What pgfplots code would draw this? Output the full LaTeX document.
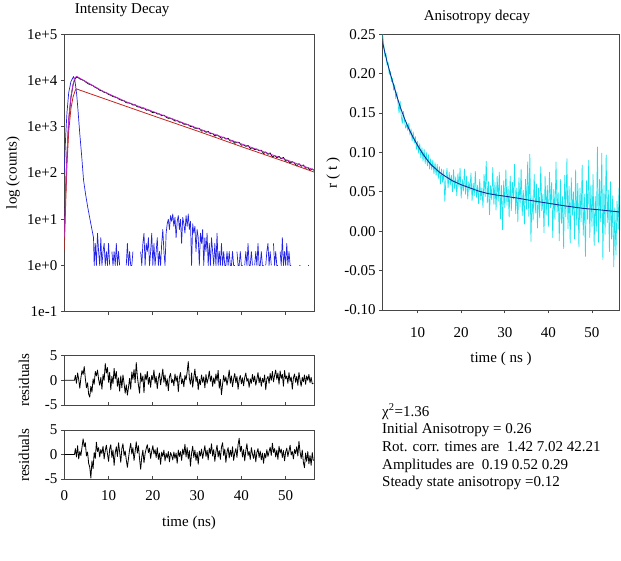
\documentclass[border=0pt]{standalone}
\usepackage{fontspec}
\setmainfont{Liberation Serif}
\usepackage{pgfplots}
\pgfplotsset{compat=1.18}

\definecolor{irfblue}{RGB}{35,35,230}
\definecolor{fitred}{RGB}{195,35,30}
\definecolor{fitmag}{RGB}{195,45,210}
\definecolor{anicyan}{RGB}{25,228,238}
\definecolor{aninavy}{RGB}{15,45,150}
\definecolor{framegray}{RGB}{70,70,70}

\newcommand{\lbl}{\fontsize{15}{18}\selectfont}

\pgfplotsset{
  panel/.style={
    scale only axis,
    anchor=south west,
    axis line style={framegray, line width=0.7pt},
    every tick/.style={framegray, line width=0.7pt},
    major tick length=3.5pt,
    tick label style={font=\lbl, text=black},
    xtick pos=bottom, ytick pos=left,
    unbounded coords=jump,
    every axis plot/.append style={line join=round},
  }
}

\begin{document}
\begin{tikzpicture}
\path[use as bounding box] (0pt,0pt) rectangle (621pt,560pt);

% ---------------- intensity decay (log counts) ----------------
\begin{axis}[panel,
  at={(64.3pt,248.3pt)}, width=249.7pt, height=277.4pt,
  xmin=0, xmax=56.4,
  ymode=log, ymin=1e-1, ymax=1e5,
  ytick={1e-1,1,10,100,1000,10000,100000},
  yticklabels={1e-1,1e+0,1e+1,1e+2,1e+3,1e+4,1e+5},
  yminorticks=false,
  xtick={10,20,30,40,50}, xticklabels={},
  tick align=outside,
]
% instrument response
\addplot[irfblue, line width=0.7pt] coordinates {
(0,100)(0.3,600)(0.6,2000)(1.0,5500)(1.5,9500)(2.08,12200)(2.4,10000)(2.8,5000)
(3.1,2240)(3.5,700)(3.9,250)(4.35,70)(4.8,35)(5.3,18)(5.8,10)(6.3,5.6)(6.6,4)
(6.75,1)(7.0,3)(7.25,1)(7.5,5)(7.75,2)(8.0,1)(8.25,4)(8.5,1)(8.75,2)(9.0,3)(9.25,1)
(9.5,2)(9.75,1)(10.0,3)(10.25,1)(10.5,0)(10.75,2)(11.0,1)(11.25,2)(11.5,1)(11.75,3)
(12.0,1)(12.25,2)(12.5,1)(12.75,0)(13.0,0)(13.25,2)(13.5,0)(13.75,0)(14.0,1)(14.25,3)
(14.5,1)(14.75,2)(15.0,1)(15.25,1)(15.5,2)(15.75,0)(16.0,0)(16.25,4)(16.5,0)(16.75,1)
(17.0,0)(17.25,2)(17.5,1)(17.75,3)(18.0,5)(18.25,1)(18.5,3)(18.75,2)(19.0,4)(19.25,1)
(19.5,2)(19.75,5)(20.0,1)(20.25,3)(20.5,1)(20.75,2)(21.0,4)(21.25,1)(21.5,2)(21.75,1)
(22.0,3)(22.25,6)(22.5,2)(22.75,1)(23.0,5)(23.25,8)(23.5,10)(23.75,6)(24.0,12)(24.25,9)
(24.5,13)(24.75,7)(25.0,11)(25.25,4)(25.5,9)(25.75,12)(26.0,6)(26.25,10)(26.5,3)(26.75,11)
(27.0,8)(27.25,5)(27.5,12)(27.75,7)(28.0,13)(28.25,6)(28.5,9)(28.75,1)(29.0,8)(29.25,5)
(29.5,7)(29.75,2)(30.0,6)(30.25,4)(30.5,1)(30.75,5)(31.0,3)(31.25,6)(31.5,1)(31.75,4)
(32.0,2)(32.25,5)(32.5,1)(32.75,3)(33.0,1)(33.25,4)(33.5,2)(33.75,1)(34.0,3)(34.25,1)
(34.5,5)(34.75,1)(35.0,2)(35.25,1)(35.5,3)(35.75,1)(36.0,2)(36.25,1)(36.5,1)(36.75,2)
(37.0,1)(37.25,2)(37.5,1)(37.75,1)(38.0,2)(38.25,1)(38.5,1)(38.75,0)(39.0,2)(39.25,1)
(39.5,1)(39.75,2)(40.0,1)(40.25,1)(40.5,0)(40.75,1)(41.0,2)(41.25,1)(41.5,3)(41.75,1)
(42.0,1)(42.25,2)(42.5,1)(42.75,0)(43.0,1)(43.25,2)(43.5,1)(43.75,3)(44.0,1)(44.25,1)
(44.5,2)(44.75,1)(45.0,1)(45.25,0)(45.5,1)(45.75,2)(46.0,3)(46.25,1)(46.5,2)(46.75,1)
(47.0,0)(47.25,3)(47.5,1)(47.75,2)(48.0,1)(48.25,1)(48.5,0)(48.75,2)(49.0,1)(49.25,4)
(49.5,1)(49.75,2)(50.0,1)(50.25,3)(50.5,1)(50.75,2)(51.0,1)(51.25,1)(51.5,0)
(53.0,0)(53.1,1)(53.3,1)(53.4,0)(55.0,0)(55.05,1)(55.25,1)(55.3,0)
};
% measured decay
\addplot[black, line width=0.8pt] coordinates {
(0,5)(0.5,150)(1.0,1400)(1.5,4300)(2.0,8300)(2.5,11300)
(3.0,11860)(3.5,10860)(4.0,10400)(4.5,9890)(5.0,9040)(5.5,8400)(6.0,8090)(6.5,7690)
(7.0,7080)(7.5,6750)(8.0,6170)(8.5,5980)(9.0,5560)(9.5,5430)(10,4990)(10.5,4820)
(11,4500)(11.5,4380)(12,4200)(12.5,3890)(13,3730)(13.5,3640)(14,3310)(14.5,3270)
(15,3190)(15.5,2960)(16,2980)(16.5,2700)(17,2680)(17.5,2510)(18,2540)(18.5,2290)
(19,2300)(19.5,2180)(20,2010)(20.5,2050)(21,1900)(21.5,1897)(22,1730)(22.5,1780)
(23,1620)(23.5,1520)(24,1530)(24.5,1450)(25,1330)(25.5,1370)(26,1250)(26.5,1245)
(27,1140)(27.5,1135)(28,1107)(28.5,1012)(29,1026)(29.5,928)(30,923)(30.5,924)
(31,805)(31.5,830)(32,758)(32.5,799)(33,709)(33.5,718)(34,630)(34.5,668)(35,620)
(35.5,563)(36,597)(36.5,542)(37,565)(37.5,490)(38,499)(38.5,440)(39,464)(39.5,457)
(40,400)(40.5,406)(41,377)(41.5,393)(42,340)(42.5,349)(43,320)(43.5,330)(44,303)
(44.5,312)(45,264)(45.5,284)(46,254)(46.5,272)(47,222)(47.5,239)(48,214)(48.5,229)
(49,203)(49.5,217)(50,180)(50.5,188)(51,164)(51.5,176)(52,164)(52.5,142)(53,159)
(53.5,140)(54,149)(54.5,127)(55,132)(55.5,114)(56,123)(56.4,114)
};
% fitted curves
\addplot[fitred, line width=0.8pt] coordinates {
(0,2.1)(0.3,20)(0.6,150)(1.0,800)(1.5,2500)(2.0,4500)(2.5,6200)(2.7,6600)
(20,1738)(30,813)(40,372)(50,174)(56.4,105)
};
\addplot[fitmag, line width=0.8pt] coordinates {
(0,4)(0.3,40)(0.6,250)(1.0,1500)(1.5,4500)(2.0,8500)(2.4,11500)(2.8,12300)
(5,9330)(8.7,5890)(14,3470)(20,2140)(25,1413)(30,933)(40,427)(50,195)(56.4,117)
};
\end{axis}

% ---------------- residuals, first fit ----------------
\begin{axis}[panel,
  at={(64.3pt,155pt)}, width=249.7pt, height=49.3pt,
  xmin=0, xmax=56.4, ymin=-5, ymax=5,
  ytick={-5,0,5}, yticklabels={-5,0,5},
  xtick={10,20,30,40,50}, xticklabels={},
  xtick align=inside, ytick align=outside,
]
\addplot[black, line width=0.8pt] coordinates {
(0,0)(2.3,0)(2.5,1.0)(2.75,-0.6)(3,1.5)(3.25,0.2)(3.5,-1.6)(3.75,0.5)(4,2.0)(4.25,1.2)
(4.5,2.8)(4.75,0.4)(5,-1.5)(5.25,-0.5)(5.5,-2.8)(5.75,-3.4)(6,-1.2)(6.25,-2.4)(6.5,0.3)
(6.75,-0.8)(7,1.8)(7.25,0.9)(7.5,2.1)(7.75,0.2)(8,-1.0)(8.25,0.6)(8.5,-1.8)(8.75,1.2)
(9,0.0)(9.25,3.4)(9.5,1.5)(9.75,2.6)(10,-0.4)(10.25,1.6)(10.5,-1.9)(10.75,0.8)(11,-0.7)
(11.25,2.4)(11.5,0.3)(11.75,1.8)(12,-1.2)(12.25,0.5)(12.5,-2.2)(12.75,0.9)(13,-1.5)
(13.25,1.1)(13.5,-0.6)(13.75,-2.6)(14,-0.9)(14.25,-3.0)(14.5,-1.4)(14.75,0.4)(15,-1.8)
(15.25,1.7)(15.5,0.2)(15.75,2.2)(16,-0.5)(16.25,3.6)(16.5,0.8)(16.75,-1.0)(17,-2.6)
(17.25,1.5)(17.5,-0.3)(17.75,0.9)(18,-2.5)(18.25,1.2)(18.5,0.1)(18.75,1.8)(19,-0.8)
(19.25,0.6)(19.5,-1.4)(19.75,1.0)(20,0.1)(20.25,2.1)(20.5,-0.6)(20.75,0.8)(21,-1.7)
(21.25,0.4)(21.5,1.5)(21.75,-0.9)(22,0.6)(22.25,2.3)(22.5,-0.4)(22.75,1.1)(23,-1.2)
(23.25,0.3)(23.5,-2.1)(23.75,0.7)(24,1.4)(24.25,-0.5)(24.5,0.2)(24.75,-1.1)(25,1.3)
(25.25,-0.2)(25.5,0.9)(25.75,-2.3)(26,0.5)(26.25,1.6)(26.5,-0.7)(26.75,0.3)(27,-1.3)
(27.25,1.0)(27.5,0.1)(27.75,1.7)(28,3.8)(28.25,0.4)(28.5,-0.8)(28.75,1.5)(29,-1.4)
(29.25,0.6)(29.5,2.3)(29.75,-0.3)(30,0.8)(30.25,-1.9)(30.5,0.2)(30.75,-0.9)(31,1.1)
(31.25,-0.4)(31.5,0.7)(31.75,-1.5)(32,1.2)(32.25,-0.6)(32.5,0.4)(32.75,1.9)(33,-0.2)
(33.25,0.9)(33.5,-1.2)(33.75,0.5)(34,-0.7)(34.25,1.3)(34.5,-0.1)(34.75,2.0)(35,-1.6)
(35.25,0.2)(35.5,-2.9)(35.75,-0.8)(36,1.0)(36.25,-0.3)(36.5,0.7)(36.75,-1.0)(37,0.4)
(37.25,2.1)(37.5,-0.6)(37.75,0.9)(38,-1.3)(38.25,0.3)(38.5,1.4)(38.75,-0.5)(39,0.8)
(39.25,-1.8)(39.5,0.1)(39.75,1.0)(40,-0.7)(40.25,0.5)(40.5,-1.1)(40.75,0.6)(41,1.5)
(41.25,-0.2)(41.5,0.4)(41.75,-1.4)(42,0.3)(42.25,-0.6)(42.5,1.2)(42.75,-0.3)(43,0.9)
(43.25,-1.0)(43.5,0.2)(43.75,1.6)(44,-0.5)(44.25,0.7)(44.5,-1.2)(44.75,0.4)(45,-0.4)
(45.25,1.1)(45.5,-1.9)(45.75,0.3)(46,0.8)(46.25,-0.6)(46.5,1.4)(46.75,0.0)(47,1.8)
(47.25,-0.3)(47.5,1.0)(47.75,2.1)(48,0.2)(48.25,1.5)(48.5,-0.8)(48.75,1.9)(49,0.4)
(49.25,1.2)(49.5,-1.2)(49.75,2.0)(50,0.3)(50.25,0.9)(50.5,-0.6)(50.75,1.6)(51,-0.2)
(51.25,0.7)(51.5,-1.8)(51.75,0.5)(52,1.3)(52.25,-0.4)(52.5,0.8)(52.75,-1.0)(53,1.6)
(53.25,0.1)(53.5,-1.2)(53.75,0.6)(54,-0.3)(54.25,1.1)(54.5,-0.8)(54.75,0.9)(55,0.0)
(55.25,1.2)(55.5,-0.5)(55.75,0.6)(56,-0.7)(56.25,-0.6)
};
\end{axis}

% ---------------- residuals, second fit ----------------
\begin{axis}[panel,
  at={(64.3pt,81pt)}, width=249.7pt, height=49pt,
  xmin=0, xmax=56.4, ymin=-5, ymax=5,
  ytick={-5,0,5}, yticklabels={-5,0,5},
  xtick={0,10,20,30,40,50}, xticklabels={0,10,20,30,40,50},
  xticklabel style={yshift=-7.5pt},
  xtick align=inside, ytick align=outside,
]
\addplot[black, line width=0.8pt] coordinates {
(0,0)(2.3,0)(2.5,1.2)(2.75,-0.5)(3,1.8)(3.25,-0.9)(3.5,0.6)(3.75,-0.2)(4,1.5)(4.25,3.2)
(4.5,1.6)(4.75,2.4)(5,-0.3)(5.25,0.5)(5.5,-1.8)(5.75,-2.6)(6,-4.8)(6.25,-1.3)(6.5,-2.9)
(6.75,0.4)(7,-0.8)(7.25,2.5)(7.5,0.6)(7.75,1.4)(8,-0.5)(8.25,1.0)(8.5,0.2)(8.75,1.7)
(9,-0.9)(9.25,0.8)(9.5,1.9)(9.75,0.1)(10,-1.4)(10.25,1.1)(10.5,2.0)(10.75,-0.6)(11,0.9)
(11.25,-2.2)(11.5,0.3)(11.75,1.6)(12,-0.4)(12.25,2.4)(12.5,0.5)(12.75,-1.6)(13,1.2)
(13.25,2.2)(13.5,-0.2)(13.75,0.7)(14,-1.1)(14.25,-2.6)(14.5,-0.8)(14.75,1.0)(15,2.3)
(15.25,0.1)(15.5,1.4)(15.75,-1.2)(16,0.6)(16.25,2.6)(16.5,0.3)(16.75,1.8)(17,-0.9)
(17.25,-3.0)(17.5,-0.5)(17.75,0.9)(18,-1.7)(18.25,0.2)(18.5,1.2)(18.75,2.0)(19,0.4)
(19.25,1.3)(19.5,-0.8)(19.75,0.7)(20,1.8)(20.25,0.1)(20.5,1.0)(20.75,-0.6)(21,1.4)
(21.25,-1.0)(21.5,0.3)(21.75,-2.0)(22,0.5)(22.25,-0.4)(22.5,0.9)(22.75,-1.3)(23,0.2)
(23.25,-0.7)(23.5,0.6)(23.75,-1.5)(24,0.4)(24.25,-0.2)(24.5,-1.1)(24.75,0.5)(25,-0.8)
(25.25,0.3)(25.5,-1.8)(25.75,0.9)(26,-0.4)(26.25,0.6)(26.5,-1.2)(26.75,1.1)(27,0.0)
(27.25,2.1)(27.5,-0.5)(27.75,1.4)(28,-0.9)(28.25,0.8)(28.5,-2.4)(28.75,0.3)(29,1.7)
(29.25,-0.6)(29.5,0.9)(29.75,-1.2)(30,0.4)(30.25,-2.0)(30.5,0.7)(30.75,-0.3)(31,1.1)
(31.25,-0.8)(31.5,0.5)(31.75,1.8)(32,-0.4)(32.25,0.9)(32.5,-1.1)(32.75,1.3)(33,0.2)
(33.25,2.2)(33.5,-0.3)(33.75,1.0)(34,-1.4)(34.25,0.6)(34.5,1.9)(34.75,-0.5)(35,0.8)
(35.25,-1.0)(35.5,1.5)(35.75,2.4)(36,-0.2)(36.25,1.1)(36.5,-1.6)(36.75,0.5)(37,1.4)
(37.25,-0.7)(37.5,0.9)(37.75,-0.4)(38,1.6)(38.25,-1.2)(38.5,0.3)(38.75,1.2)(39,-0.6)
(39.25,2.0)(39.5,3.3)(39.75,0.6)(40,1.7)(40.25,-0.5)(40.5,1.0)(40.75,-1.3)(41,0.8)
(41.25,2.2)(41.5,-0.2)(41.75,0.6)(42,-1.0)(42.25,1.4)(42.5,0.1)(42.75,-0.8)(43,0.9)
(43.25,-1.5)(43.5,0.4)(43.75,1.2)(44,-0.6)(44.25,0.7)(44.5,-1.1)(44.75,0.3)(45,-1.8)
(45.25,0.2)(45.5,-0.7)(45.75,1.0)(46,-0.4)(46.25,0.6)(46.5,1.5)(46.75,-0.2)(47,2.3)
(47.25,0.4)(47.5,1.2)(47.75,-0.5)(48,0.9)(48.25,-1.0)(48.5,1.7)(48.75,0.3)(49,1.1)
(49.25,-0.6)(49.5,0.8)(49.75,-1.3)(50,0.5)(50.25,1.3)(50.5,-0.4)(50.75,0.7)(51,1.9)
(51.25,-0.1)(51.5,0.6)(51.75,-0.9)(52,1.0)(52.25,0.2)(52.5,1.6)(52.75,-0.3)(53,2.7)
(53.25,0.5)(53.5,-0.8)(53.75,0.9)(54,-1.6)(54.25,-2.7)(54.5,0.3)(54.75,-1.4)(55,0.6)
(55.25,-1.9)(55.5,-0.2)(55.75,-2.2)(56,0.4)(56.25,-1.3)
};
\end{axis}

% ---------------- anisotropy decay ----------------
\begin{axis}[panel,
  at={(382.7pt,250pt)}, width=236.3pt, height=275.7pt,
  xmin=2, xmax=56.2, ymin=-0.1, ymax=0.25,
  ytick={-0.1,-0.05,0,0.05,0.1,0.15,0.2,0.25},
  yticklabels={-0.10,-0.05,0.00,0.05,0.10,0.15,0.20,0.25},
  xtick={10,20,30,40,50}, xticklabels={10,20,30,40,50},
  xticklabel style={yshift=-10pt},
  tick align=outside,
]
\addplot[anicyan, line width=0.7pt] coordinates {
(2.00,.250)(2.25,.236)(2.50,.222)(2.75,.226)(3.00,.211)(3.25,.214)(3.50,.199)(3.75,.203)
(4.00,.190)(4.25,.194)(4.50,.179)(4.75,.186)(5.00,.168)(5.25,.177)(5.50,.163)(5.75,.150)
(6.00,.165)(6.25,.146)(6.50,.137)(6.75,.152)(7.00,.140)(7.25,.131)(7.50,.136)(7.75,.128)
(8.00,.137)(8.25,.122)(8.50,.130)(8.75,.115)(9.00,.126)(9.25,.112)(9.50,.120)(9.75,.104)
(10.00,.114)(10.25,.099)(10.50,.111)(10.75,.093)(11.00,.106)(11.25,.089)(11.50,.104)
(11.75,.086)(12.00,.100)(12.25,.083)(12.50,.097)(12.75,.079)(13.00,.092)(13.25,.078)
(13.50,.090)(13.75,.073)(14.00,.087)(14.25,.071)(14.50,.085)(14.75,.067)(15.00,.082)
(15.25,.060)(15.50,.079)(15.75,.062)(16.00,.078)(16.25,.038)(16.50,.066)(16.75,.080)
(17.00,.055)(17.25,.075)(17.50,.059)(17.75,.071)(18.00,.050)(18.25,.078)(18.50,.054)
(18.75,.069)(19.00,.045)(19.25,.073)(19.50,.056)(19.75,.080)(20.00,.042)(20.25,.066)
(20.50,.051)(20.75,.079)(21.00,.047)(21.25,.070)(21.50,.041)(21.75,.063)(22.00,.052)
(22.25,.074)(22.50,.039)(22.75,.061)(23.00,.045)(23.25,.076)(23.50,.043)(23.75,.058)
(24.00,.035)(24.25,.066)(24.50,.040)(24.75,.055)(25.00,.030)(25.25,.072)(25.50,.044)
(25.75,.089)(26.00,.036)(26.25,.063)(26.50,.021)(26.75,.058)(27.00,.040)(27.25,.081)
(27.50,.034)(27.75,.062)(28.00,.027)(28.25,.070)(28.50,.038)(28.75,.075)(29.00,.016)
(29.25,.058)(29.50,.002)(29.75,.064)(30.00,.030)(30.25,.078)(30.50,.033)(30.75,.057)
(31.00,.018)(31.25,.070)(31.50,.026)(31.75,.062)(32.00,.041)(32.25,.085)(32.50,.022)
(32.75,.055)(33.00,.012)(33.25,.068)(33.50,.031)(33.75,.079)(34.00,.020)(34.25,.052)
(34.50,.009)(34.75,.066)(35.00,.028)(35.25,.088)(35.50,.019)(35.75,.098)(36.00,-.013)
(36.25,.045)(36.50,.014)(36.75,.072)(37.00,.023)(37.25,.060)(37.50,.004)(37.75,.055)
(38.00,.017)(38.25,.082)(38.50,.026)(38.75,.047)(39.00,-.002)(39.25,.070)(39.50,.021)
(39.75,.058)(40.00,.006)(40.25,.075)(40.50,.030)(40.75,.062)(41.00,-.008)(41.25,.053)
(41.50,.015)(41.75,.088)(42.00,.024)(42.25,.049)(42.50,-.012)(42.75,.066)(43.00,.010)
(43.25,.044)(43.50,-.022)(43.75,.071)(44.00,.018)(44.25,.092)(44.50,.003)(44.75,.057)
(45.00,-.015)(45.25,.068)(45.50,.020)(45.75,.050)(46.00,-.010)(46.25,.078)(46.50,.008)
(46.75,.061)(47.00,-.020)(47.25,.055)(47.50,.012)(47.75,.084)(48.00,-.005)(48.25,.047)
(48.50,-.032)(48.75,.064)(49.00,.015)(49.25,.090)(49.50,-.008)(49.75,.059)(50.00,.006)
(50.25,.072)(50.50,-.018)(50.75,.044)(51.00,.000)(51.25,.107)(51.50,-.014)(51.75,.066)
(52.00,.012)(52.25,.099)(52.50,-.036)(52.75,.058)(53.00,-.004)(53.25,.097)(53.50,.011)
(53.75,.052)(54.00,-.026)(54.25,.063)(54.50,-.010)(54.75,.045)(55.00,-.045)(55.25,.030)
(55.50,-.030)(55.75,.038)(56.00,.002)(56.20,.055)
};
\addplot[aninavy, line width=0.9pt] coordinates {
(2.0,.239)(3.0,.215)(4.0,.195)(5.0,.176)(6.0,.158)(7.0,.143)(8.0,.130)(9.0,.119)
(10,.109)(11,.100)(12,.092)(13,.085)(14,.080)(15,.075)(16,.071)(18,.064)(20,.059)
(22,.055)(24,.051)(26,.048)(28,.046)(30,.0445)(33,.042)(36,.039)(40,.0355)(44,.032)
(48,.029)(52,.027)(56.2,.0245)
};
\end{axis}

% ---------------- titles, axis labels and fit summary ----------------
\node[font=\lbl] at (122.2pt,549.5pt) {Intensity Decay};
\node[font=\lbl] at (477pt,543pt) {Anisotropy decay};
\node[font=\lbl, rotate=90] at (13pt,387pt) {log (counts)};
\node[font=\lbl, rotate=90] at (24pt,180pt) {residuals};
\node[font=\lbl, rotate=90] at (24pt,105pt) {residuals};
\node[font=\lbl, rotate=90] at (333.3pt,387pt) {r ( t )};
\node[font=\lbl] at (189pt,37pt) {time (ns)};
\node[font=\lbl] at (501pt,201pt) {time ( ns )};

\node[font=\lbl, anchor=base west, inner sep=0pt] at (382pt,143.8pt) {χ\textsuperscript{2}=1.36};
\node[font=\lbl, anchor=base west, inner sep=0pt] at (382pt,126.2pt) {Initial Anisotropy = 0.26};
\node[font=\lbl, anchor=base west, inner sep=0pt] at (382pt,108.6pt) {Rot. corr. times are\ \ 1.42 7.02 42.21};
\node[font=\lbl, anchor=base west, inner sep=0pt] at (382pt,91.0pt) {Amplitudes are\ \ 0.19 0.52 0.29};
\node[font=\lbl, anchor=base west, inner sep=0pt] at (382pt,73.4pt) {Steady state anisotropy =0.12};
\end{tikzpicture}
\end{document}
